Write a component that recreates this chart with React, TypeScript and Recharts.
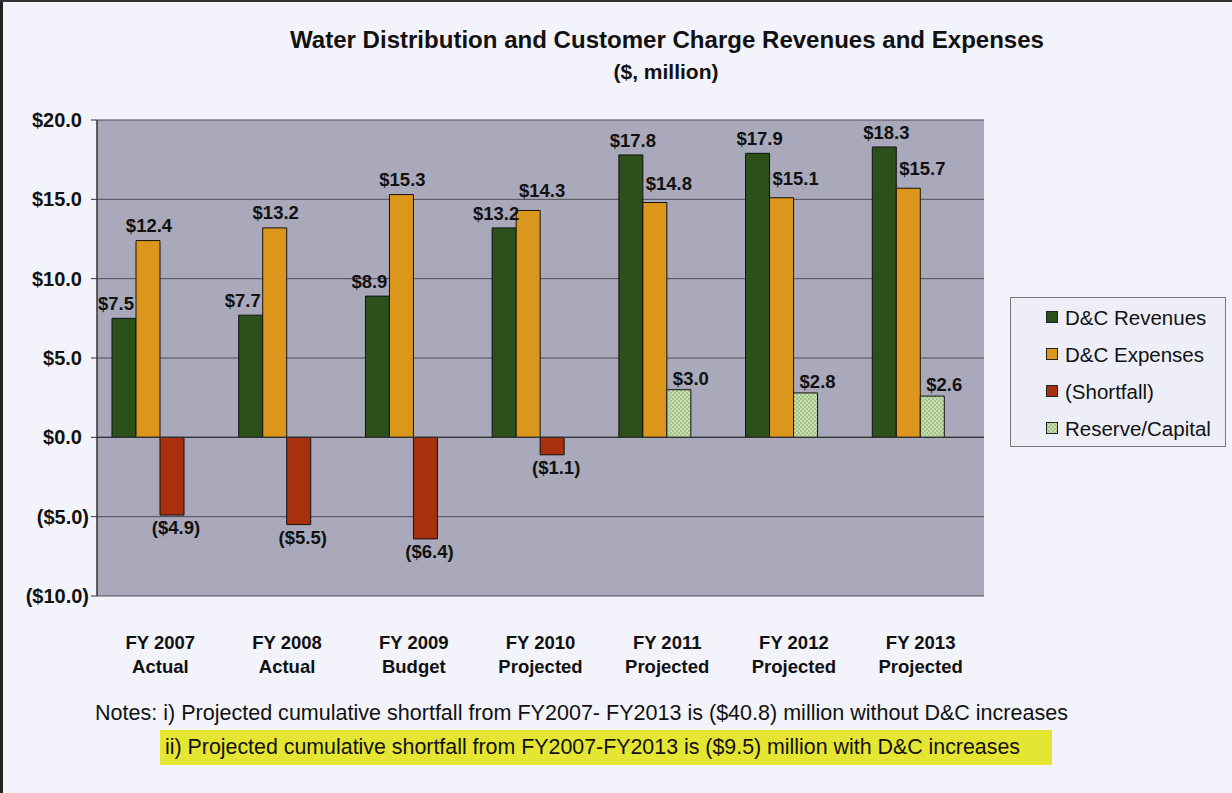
import React from "react";
import {
  BarChart,
  Bar,
  XAxis,
  YAxis,
  CartesianGrid,
  ReferenceLine,
  Legend,
  LabelList,
} from "recharts";

const fiscalYears = ["FY 2007", "FY 2008", "FY 2009", "FY 2010", "FY 2011", "FY 2012", "FY 2013"];
const periodTypes = ["Actual", "Actual", "Budget", "Projected", "Projected", "Projected", "Projected"];
const revenues = [7.5, 7.7, 8.9, 13.2, 17.8, 17.9, 18.3];
const expenses = [12.4, 13.2, 15.3, 14.3, 14.8, 15.1, 15.7];
const shortfall = [-4.9, -5.5, -6.4, -1.1, null, null, null];
const reserve = [null, null, null, null, 3.0, 2.8, 2.6];
const yTicks = [-10, -5, 0, 5, 10, 15, 20];
const seriesNames = ["D&C Revenues", "D&C Expenses", "(Shortfall)", "Reserve/Capital"];

const data = fiscalYears.map((fy, i) => ({
  fy,
  revenues: revenues[i],
  expenses: expenses[i],
  shortfall: shortfall[i],
  reserve: reserve[i],
}));

const FONT = "'Liberation Sans', Arial, Helvetica, sans-serif";
const GREEN = "#2b5019";
const ORANGE = "#dd961c";
const RED = "#a8300f";

const money = (v: number) =>
  v < 0 ? `($${Math.abs(v).toFixed(1)})` : `$${v.toFixed(1)}`;

// label renderer: shift is a function of the point index
function makeLabel(shift: (i: number) => number, lift: (i: number) => number) {
  return (props: any) => {
    const { x, y, width, height, value, index } = props;
    if (value == null) return null;
    const cx = Number(x) + Number(width) / 2 + shift(index);
    const top = Math.min(Number(y), Number(y) + Number(height));
    const bottom = Math.max(Number(y), Number(y) + Number(height));
    const ty = value < 0 ? bottom + 19 : top - lift(index);
    return (
      <text
        x={cx}
        y={ty}
        textAnchor="middle"
        fontFamily={FONT}
        fontSize={18.5}
        fontWeight="bold"
        fill="#111"
      >
        {money(value)}
      </text>
    );
  };
}

function YTick({ x, y, payload }: any) {
  const v = payload.value;
  return (
    <text
      x={x - (v < 0 ? 0 : 7)}
      y={y + 7}
      textAnchor="end"
      fontFamily={FONT}
      fontSize={20}
      fontWeight="bold"
      fill="#111"
    >
      {money(v)}
    </text>
  );
}

function XTick({ x, y, payload, index }: any) {
  return (
    <text
      textAnchor="middle"
      fontFamily={FONT}
      fontSize={18.5}
      fontWeight="bold"
      fill="#111"
    >
      <tspan x={x} y={y + 45}>
        {payload.value}
      </tspan>
      <tspan x={x} y={y + 69}>
        {periodTypes[index]}
      </tspan>
    </text>
  );
}

function LegendBox({ payload }: any) {
  const items = (payload || [])
    .filter((p: any) => p.type !== "none")
    .sort((a: any, b: any) => seriesNames.indexOf(a.value) - seriesNames.indexOf(b.value));
  return (
    <div
      style={{
        width: 216,
        height: 150,
        border: "1px solid #777",
        background: "#eeeef8",
        boxSizing: "border-box",
        paddingTop: 1,
        fontFamily: FONT,
      }}
    >
      {items.map((it: any) => (
        <div
          key={it.value}
          style={{ display: "flex", alignItems: "center", height: 37, paddingLeft: 35 }}
        >
          <svg width={13} height={13}>
            <rect x={0.5} y={0.5} width={11} height={11} fill={it.color} stroke="#222" />
          </svg>
          <span style={{ marginLeft: 6, fontSize: 20.5, color: "#111" }}>{it.value}</span>
        </div>
      ))}
    </div>
  );
}

export default function App() {
  return (
    <div
      style={{
        position: "absolute",
        left: 0,
        top: 0,
        width: 1232,
        height: 793,
        background: "#f3f3fb",
        overflow: "hidden",
      }}
    >
      <div style={{ position: "absolute", left: 0, top: 0, width: 3, height: 793, background: "#222" }} />
      <div style={{ position: "absolute", left: 0, top: 0, width: 1232, height: 2, background: "#333" }} />

      <svg
        width={1232}
        height={793}
        style={{ position: "absolute", left: 0, top: 0, pointerEvents: "none" }}
      >
        <text
          x={667}
          y={48}
          textAnchor="middle"
          fontFamily={FONT}
          fontSize={23}
          fontWeight="bold"
          fill="#111"
          textLength={754}
          lengthAdjust="spacingAndGlyphs"
        >
          Water Distribution and Customer Charge Revenues and Expenses
        </text>
        <text
          x={666}
          y={79}
          textAnchor="middle"
          fontFamily={FONT}
          fontSize={21}
          fontWeight="bold"
          fill="#111"
        >
          ($, million)
        </text>
        <rect x={160} y={730} width={892} height={35} fill="#e5e632" />
        <text
          x={95}
          y={720}
          fontFamily={FONT}
          fontSize={22}
          fill="#111"
          textLength={973}
          lengthAdjust="spacingAndGlyphs"
        >
          Notes:  i) Projected cumulative shortfall from FY2007- FY2013 is ($40.8) million without D&C increases
        </text>
        <text
          x={165}
          y={754}
          fontFamily={FONT}
          fontSize={22}
          fill="#111"
          textLength={855}
          lengthAdjust="spacingAndGlyphs"
        >
          ii) Projected cumulative shortfall from FY2007-FY2013 is ($9.5) million with D&C increases
        </text>
      </svg>

      <div style={{ position: "absolute", left: 0, top: 0 }}>
        <BarChart
          width={1232}
          height={700}
          data={data}
          margin={{ top: 120, right: 248, bottom: 44, left: 0 }}
          barSize={24}
          barGap={0}
          stackOffset="sign"
        >
          <defs>
            <pattern id="reserveHatch" width="4" height="4" patternUnits="userSpaceOnUse">
              <rect width="4" height="4" fill="#a3c287" />
              <rect width="2" height="2" fill="#c9ddb2" />
              <rect x="2" y="2" width="2" height="2" fill="#c9ddb2" />
            </pattern>
          </defs>
          <CartesianGrid vertical={false} stroke="#4d4d58" fill="#a9a9bb" fillOpacity={1} />
          <XAxis
            dataKey="fy"
            height={60}
            axisLine={false}
            tickLine={false}
            interval={0}
            tick={<XTick />}
          />
          <YAxis
            width={97}
            domain={[-10, 20]}
            ticks={yTicks}
            interval={0}
            axisLine={{ stroke: "#333", strokeWidth: 1.5 }}
            tickLine={{ stroke: "#333" }}
            tickSize={6}
            tick={<YTick />}
          />
          <ReferenceLine y={0} stroke="#333" strokeWidth={1.3} />
          <Legend
            layout="vertical"
            align="center"
            verticalAlign="middle"
            width={216}
            height={150}
            wrapperStyle={{ left: 1010, top: 297 }}
            content={<LegendBox />}
          />
          <Bar dataKey="revenues" name={seriesNames[0]} stackId="a" fill={GREEN} stroke="#111" strokeWidth={1} isAnimationActive={false}>
            <LabelList content={makeLabel((i) => (i < 4 ? -8 : 2), () => 8)} />
          </Bar>
          <Bar dataKey="expenses" name={seriesNames[1]} stackId="b" fill={ORANGE} stroke="#111" strokeWidth={1} isAnimationActive={false}>
            <LabelList content={makeLabel((i) => (i < 3 ? 1 : 14), (i) => (i < 3 ? 9 : 13))} />
          </Bar>
          <Bar dataKey="shortfall" name={seriesNames[2]} stackId="c" fill={RED} stroke="#111" strokeWidth={1} isAnimationActive={false}>
            <LabelList content={makeLabel(() => 4, () => 6)} />
          </Bar>
          <Bar dataKey="reserve" name={seriesNames[3]} stackId="c" fill="url(#reserveHatch)" stroke="#111" strokeWidth={1} isAnimationActive={false}>
            <LabelList content={makeLabel(() => 12, () => 5)} />
          </Bar>
          {/* empty fourth slot, the source chart leaves room for one more series */}
          <Bar dataKey="spacer" stackId="d" legendType="none" fill="none" isAnimationActive={false} />
        </BarChart>
      </div>
    </div>
  );
}
